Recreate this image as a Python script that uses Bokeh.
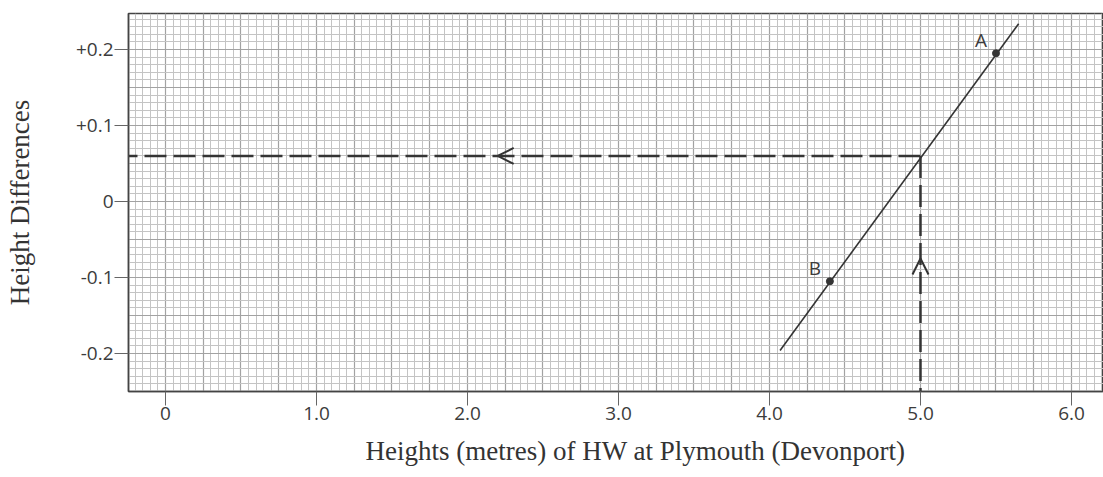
import numpy as np
from bokeh.plotting import figure
from bokeh.models import FixedTicker, Arrow, OpenHead, ColumnDataSource, Title
from bokeh.core.properties import value
from bokeh.embed import file_html
from bokeh.resources import INLINE

# ---- data ----
x_ticks = [0, 1, 2, 3, 4, 5, 6]
x_tick_labels = ["0", "1.0", "2.0", "3.0", "4.0", "5.0", "6.0"]
y_ticks = [-0.2, -0.1, 0.0, 0.1, 0.2]
y_tick_labels = ["-0.2", "-0.1", "0", "+0.1", "+0.2"]

line_x = [4.07, 5.65]
line_y = [-0.196, 0.234]

point_x = [5.5, 4.4]
point_y = [0.195, -0.105]
point_names = ["A", "B"]

read_x = 5.0          # height of HW entered
read_y = 0.06
arrow_h_x = 2.2       # position of the left-pointing arrow head on the horizontal dashed line
arrow_v_y = -0.075    # position of the up-pointing arrow head on the vertical dashed line

x_title = "Heights (metres) of HW at Plymouth (Devonport)"
y_title = "Height Differences"

X_RANGE = (-0.245, 6.212)
Y_RANGE = (-0.25, 0.2474)

DARK = "#343434"

p = figure(width=1103, height=477, x_range=X_RANGE, y_range=Y_RANGE,
           output_backend="svg", toolbar_location=None,
           min_border_left=128, min_border_right=0, min_border_top=13, min_border_bottom=86,
           background_fill_color="white", border_fill_color="white")

# graph-paper grid
p.xgrid.ticker = FixedTicker(ticks=list(np.round(np.arange(-0.25, 6.26, 0.25), 4)),
                             minor_ticks=list(np.round(np.arange(-0.25, 6.26, 0.05), 4)))
p.ygrid.ticker = FixedTicker(ticks=list(np.round(np.arange(-0.25, 0.251, 0.05), 4)),
                             minor_ticks=list(np.round(np.arange(-0.25, 0.251, 0.01), 4)))
for g in (p.xgrid, p.ygrid):
    g.grid_line_color = "#a2a2a2"
    g.grid_line_width = 1.2
    g.minor_grid_line_color = "#c4c4c4"
    g.minor_grid_line_width = 1

p.outline_line_color = "#444444"
p.outline_line_width = 1.5

# axes
p.xaxis.ticker = FixedTicker(ticks=x_ticks)
p.xaxis.major_label_overrides = {t: l for t, l in zip(x_ticks, x_tick_labels)}
p.yaxis.ticker = FixedTicker(ticks=y_ticks)
p.yaxis.major_label_overrides = {t: l for t, l in zip(y_ticks, y_tick_labels)}

for ax in (p.xaxis, p.yaxis):
    ax.axis_line_color = "#444444"
    ax.axis_line_width = 1.5
    ax.major_tick_in = 0
    ax.major_tick_out = 14
    ax.major_tick_line_color = "#666666"
    ax.major_tick_line_width = 1
    ax.minor_tick_line_color = None
    ax.major_label_text_font = "Open Sans"
    ax.major_label_text_font_size = "19px"
    ax.major_label_text_color = "#3c3c3c"
    ax.major_label_standoff = 1
    ax.axis_label_text_font = "Liberation Serif"
    ax.axis_label_text_font_size = "27px"
    ax.axis_label_text_font_style = "normal"
    ax.axis_label_text_color = "#333333"

p.yaxis.axis_label = y_title
p.yaxis.axis_label_standoff = 38

# x-axis title as a panel below the axis
p.add_layout(Title(text=x_title, align="left", offset=237, standoff=22,
                   text_font="Liberation Serif", text_font_size="27px",
                   text_font_style="normal", text_color="#333333"), "below")

# dashed reading lines
p.line([read_x, X_RANGE[0]], [read_y, read_y], line_color=DARK, line_width=2.5, line_dash="22 7")
p.line([read_x, read_x], [read_y, Y_RANGE[0]], line_color=DARK, line_width=2.5, line_dash="22 7")

# arrow heads (open chevrons)
p.add_layout(Arrow(end=OpenHead(size=16, line_color=DARK, line_width=2),
                   x_start=arrow_h_x + 0.3, y_start=read_y, x_end=arrow_h_x, y_end=read_y,
                   line_alpha=0))
p.add_layout(Arrow(end=OpenHead(size=16, line_color=DARK, line_width=2),
                   x_start=read_x, y_start=arrow_v_y - 0.05, x_end=read_x, y_end=arrow_v_y,
                   line_alpha=0))

# the straight-line graph
p.line(line_x, line_y, line_color=DARK, line_width=1.6)

src = ColumnDataSource(dict(x=point_x, y=point_y, name=point_names))
p.scatter("x", "y", source=src, size=7, color=DARK)
p.text("x", "y", text="name", source=src, x_offset=-15, y_offset=-13,
       text_align="center", text_baseline="middle",
       text_font=value("Open Sans"), text_font_size="19px", text_color="#3c3c3c")

open("out.html", "w").write(file_html(p, INLINE))
